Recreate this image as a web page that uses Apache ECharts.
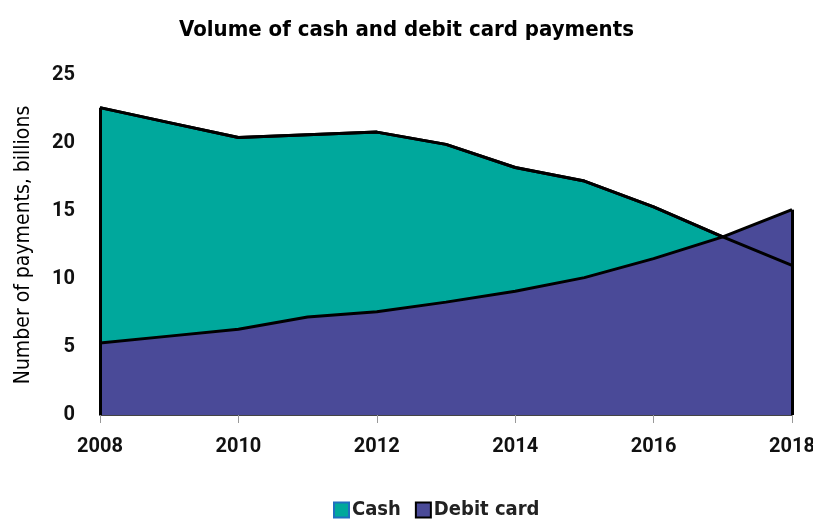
<!DOCTYPE html>
<html><head><meta charset="utf-8">
<script src="https://cdn.jsdelivr.net/npm/echarts@6/dist/echarts.min.js"></script>
<style>html,body{margin:0;padding:0;background:#fff}#c{width:813px;height:525px}</style>
</head><body><div id="c"></div>
<script>
const years = ['2008','2009','2010','2011','2012','2013','2014','2015','2016','2017','2018'];
const cash = [22.6, 21.5, 20.4, 20.6, 20.8, 19.9, 18.2, 17.2, 15.3, 13.1, 11.0];
const debit = [5.3, 5.8, 6.3, 7.2, 7.6, 8.3, 9.1, 10.1, 11.5, 13.1, 15.1];
const yTicks = [0, 5, 10, 15, 20, 25];

const chart = echarts.init(document.getElementById('c'));
const edge = (x, v) => [{coord: [x, 0]}, {coord: [x, v]}];
chart.setOption({
  animation: false,
  title: {text: 'Volume of cash and debit card payments', left: 'center', top: 14,
    textStyle: {fontFamily: 'DejaVu Sans Condensed', fontWeight: 'bold', fontSize: 22, color: '#000'}},
  legend: {bottom: 0, left: 328, itemWidth: 15, itemHeight: 15, itemGap: 14,
    textStyle: {fontFamily: 'DejaVu Sans Condensed', fontWeight: 'bold', fontSize: 20, color: '#222', padding: [0,0,0,-2]},
    data: [{name: 'Cash', icon: 'rect', itemStyle: {borderColor: '#1f6fc0', borderWidth: 2}},
           {name: 'Debit card', icon: 'rect', itemStyle: {borderColor: '#000', borderWidth: 2}}]},
  grid: {left: 100, right: 21, top: 75, bottom: 110, outerBoundsMode: 'none', containLabel: false},
  xAxis: {type: 'category', data: years, boundaryGap: false,
    axisLine: {lineStyle: {color: '#444', width: 2}},
    axisTick: {interval: 1, length: 8, lineStyle: {color: '#999'}},
    axisLabel: {interval: 1, margin: 22, fontFamily: 'Roboto', fontWeight: 'bold', fontSize: 20, color: '#111'}},
  yAxis: {type: 'value', min: yTicks[0], max: yTicks[yTicks.length-1], interval: 5,
    name: 'Number of payments, billions', nameLocation: 'middle', nameGap: 66, nameRotate: 90,
    nameTextStyle: {fontFamily: 'DejaVu Sans Condensed', fontSize: 21, color: '#000'},
    splitLine: {show: false}, axisLine: {show: false}, axisTick: {show: false},
    axisLabel: {margin: 25, fontFamily: 'Roboto', fontWeight: 'bold', fontSize: 20, color: '#111'}},
  series: [
    {name: 'Cash', type: 'line', data: cash, symbol: 'none', z: 2,
      itemStyle: {color: '#00a89c'},
      lineStyle: {color: '#000', width: 3}, areaStyle: {color: '#00a89c', opacity: 1},
      markLine: {silent: true, symbol: 'none', label: {show: false},
        lineStyle: {color: '#000', width: 3, type: 'solid'},
        data: [edge(years[0], cash[0])]}},
    {name: 'Debit card', type: 'line', data: debit, symbol: 'none', z: 3,
      itemStyle: {color: '#4a4a98'},
      lineStyle: {color: '#000', width: 3}, areaStyle: {color: '#4a4a98', opacity: 1},
      markLine: {silent: true, symbol: 'none', label: {show: false},
        lineStyle: {color: '#000', width: 3, type: 'solid'},
        data: [edge(years[years.length-1], debit[debit.length-1])]}},
    {name: 'CashLine', type: 'line', data: cash, symbol: 'none', z: 4, silent: true,
      lineStyle: {color: '#000', width: 3}, tooltip: {show: false}}
  ]
});
</script></body></html>
